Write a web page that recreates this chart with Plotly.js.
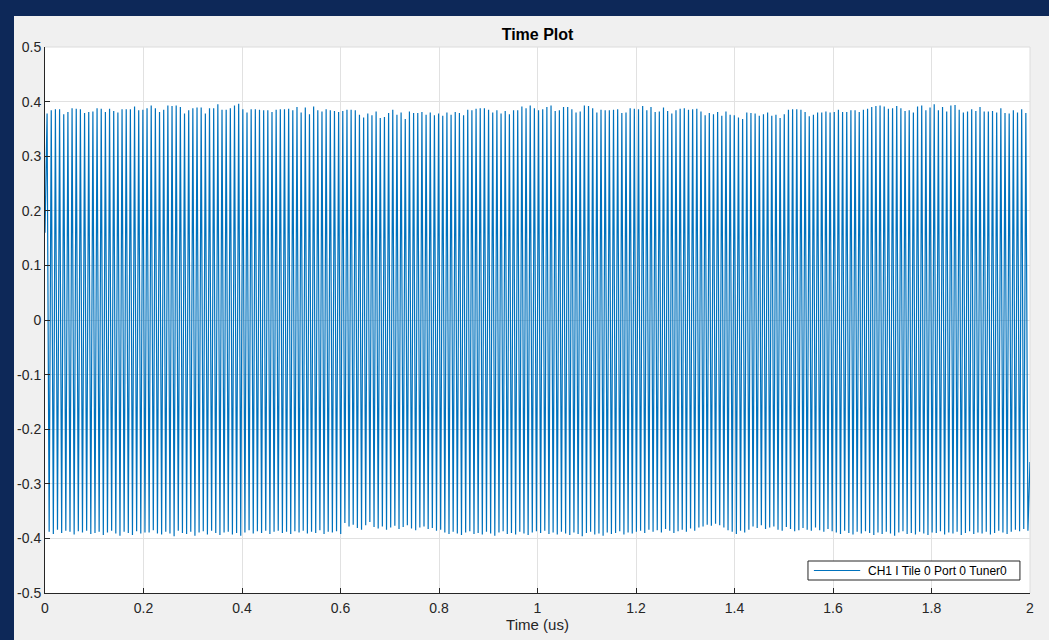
<!DOCTYPE html>
<html>
<head>
<meta charset="utf-8">
<script src="https://cdn.plot.ly/plotly-3.0.1.min.js"></script>
<style>
  html, body { margin: 0; padding: 0; background: #0d2858; width: 1049px; height: 640px; overflow: hidden; }
  #chart { position: absolute; left: 14px; top: 16px; width: 1035px; height: 624px; }
</style>
</head>
<body>
<div id="chart"></div>
<script>
// Signal start/end samples (V)
var startValue = 0.16;
var endValue = -0.26;

// Positive peak of each cycle (V), 0 .. 2 us
var topPeaks = [
  .378,.384,.386,.386,.377,.381,.388,.387,.386,.379,.381,.382,.388,.387,.381,.387,.383,.380,.386,.386,.386,.391,.384,.385,
  .388,.393,.388,.381,.385,.393,.392,.393,.390,.378,.384,.388,.389,.389,.378,.388,.388,.395,.385,.385,.388,.393,.396,
  .386,.380,.386,.386,.385,.384,.384,.381,.385,.386,.386,.387,.384,.390,.380,.389,.377,.391,.384,.382,.386,.384,.383,.381,
  .383,.385,.385,.384,.376,.371,.378,.375,.382,.370,.372,.379,.385,.376,.380,.368,.382,.379,.379,.381,.376,.380,.375,.378,
  .374,.380,.376,.381,.379,.375,.385,.384,.387,.388,.388,.385,.380,.384,.378,.383,.377,.384,.384,.391,.388,.393,.388,
  .384,.386,.390,.393,.383,.384,.390,.390,.386,.380,.382,.393,.392,.388,.380,.385,.384,.384,.385,.386,.379,.380,.388,.387,
  .386,.392,.384,.390,.381,.382,.389,.383,.378,.384,.387,.388,.385,.386,.387,.382,.375,.379,.377,.381,.374,.382,.376,
  .375,.371,.368,.380,.379,.378,.374,.377,.380,.374,.376,.370,.377,.385,.386,.386,.385,.381,.373,.376,.380,.380,.382,.380,
  .381,.385,.381,.381,.384,.384,.381,.385,.387,.390,.392,.393,.391,.387,.388,.392,.388,.383,.384,.380,.391,.393,.384,.389,
  .395,.384,.390,.382,.393,.394,.385,.380,.382,.386,.383,.390,.382,.382,.383,.380,.388,.379,.378,.384,.380,.386,.379
];

// Negative peak of each cycle (V)
var bottomPeaks = [
  -.388,-.392,-.384,-.390,-.386,-.388,-.393,-.387,-.389,-.386,-.392,-.390,-.388,-.394,-.389,-.386,-.391,-.395,-.388,-.390,-.394,-.387,-.391,-.389,
  -.389,-.385,-.391,-.393,-.388,-.391,-.396,-.386,-.390,-.392,-.388,-.395,-.389,-.387,-.393,-.386,-.390,-.394,-.389,-.388,-.393,-.390,-.395,
  -.389,-.385,-.391,-.387,-.390,-.386,-.392,-.388,-.386,-.390,-.388,-.392,-.387,-.389,-.386,-.391,-.388,-.390,-.385,-.392,-.388,-.389,-.387,-.392,
  -.372,-.378,-.375,-.381,-.384,-.376,-.370,-.379,-.382,-.378,-.384,-.380,-.377,-.383,-.379,-.376,-.382,-.385,-.380,-.378,-.383,-.381,-.386,-.384,
  -.389,-.392,-.388,-.391,-.394,-.389,-.387,-.392,-.390,-.393,-.388,-.391,-.395,-.389,-.387,-.392,-.390,-.393,-.388,-.391,-.394,-.389,-.387,
  -.390,-.386,-.392,-.389,-.393,-.388,-.391,-.394,-.389,-.392,-.396,-.390,-.388,-.393,-.391,-.395,-.389,-.392,-.390,-.387,-.393,-.389,-.391,-.388,
  -.386,-.390,-.384,-.388,-.385,-.389,-.383,-.386,-.390,-.387,-.384,-.388,-.382,-.386,-.380,-.378,-.375,-.377,-.373,-.376,-.380,-.385,-.388,
  -.392,-.386,-.389,-.384,-.378,-.381,-.376,-.383,-.380,-.378,-.384,-.386,-.379,-.383,-.387,-.385,-.381,-.384,-.386,-.380,-.385,-.388,-.383,-.387,
  -.389,-.392,-.386,-.390,-.393,-.388,-.391,-.387,-.390,-.394,-.389,-.392,-.388,-.391,-.395,-.389,-.387,-.392,-.390,-.393,-.388,-.391,-.394,-.389,
  -.390,-.387,-.393,-.389,-.391,-.388,-.394,-.390,-.387,-.392,-.389,-.391,-.388,-.393,-.390,-.386,-.389,-.392,-.388,-.384,-.387,-.383,-.386
];

var timeStart = 0;   // us
var timeEnd = 2;     // us
var xTickVals = [0, 0.2, 0.4, 0.6, 0.8, 1, 1.2, 1.4, 1.6, 1.8, 2];
var xTickText = ['0', '0.2', '0.4', '0.6', '0.8', '1', '1.2', '1.4', '1.6', '1.8', '2'];
var yTickVals = [-0.5, -0.4, -0.3, -0.2, -0.1, 0, 0.1, 0.2, 0.3, 0.4, 0.5];
var yTickText = ['-0.5', '-0.4', '-0.3', '-0.2', '-0.1', '0', '0.1', '0.2', '0.3', '0.4', '0.5'];
var seriesName = 'CH1 I Tile 0 Port 0 Tuner0';
var lineColor = '#0072BD';

// Assemble samples: start, alternating peaks, end
var yVals = [startValue];
var nCycles = Math.min(topPeaks.length, bottomPeaks.length);
for (var i = 0; i < nCycles; i++) { yVals.push(topPeaks[i]); yVals.push(bottomPeaks[i]); }
yVals.push(endValue);
var dx = (timeEnd - timeStart) / (yVals.length - 1);

var fontFam = '"Liberation Sans", Arial, sans-serif';
var axCol = '#262626';

var trace = {
  type: 'scatter', mode: 'lines',
  x0: timeStart, dx: dx, y: yVals,
  name: seriesName,
  line: { color: lineColor, width: 1.2 },
  showlegend: false
};

// legend box geometry in paper fractions of the plot area
var lgL = 0.7746, lgR = 0.9898, lgB = 0.0238, lgT = 0.0586, lgMid = (lgB + lgT) / 2;

var layout = {
  width: 1035, height: 624,
  paper_bgcolor: '#f0f0f0', plot_bgcolor: '#ffffff',
  margin: { l: 31, r: 19, t: 31, b: 47 },
  font: { family: fontFam, size: 12, color: axCol },
  title: { text: '<b>Time Plot</b>', font: { family: fontFam, size: 16, color: '#000000' },
           x: 0.5, xref: 'paper', y: 1 - 18 / 624, yref: 'container', yanchor: 'middle' },
  showlegend: false,
  xaxis: {
    range: [timeStart, timeEnd], tickmode: 'array', tickvals: xTickVals, ticktext: xTickText,
    ticks: 'inside', ticklen: 5, tickcolor: axCol, tickwidth: 1,
    showline: true, linecolor: axCol, linewidth: 1,
    showgrid: true, gridcolor: '#e1e1e1', gridwidth: 1, zeroline: false,
    ticklabelstandoff: 2,
    tickfont: { family: fontFam, size: 14, color: axCol },
    title: { text: 'Time (us)', font: { family: fontFam, size: 15, color: axCol }, standoff: 4 }
  },
  yaxis: {
    range: [-0.5, 0.5], tickmode: 'array', tickvals: yTickVals, ticktext: yTickText,
    ticks: 'inside', ticklen: 5, tickcolor: axCol, tickwidth: 1,
    showline: true, linecolor: axCol, linewidth: 1,
    showgrid: true, gridcolor: '#e1e1e1', gridwidth: 1, zeroline: false,
    tickfont: { family: fontFam, size: 14, color: axCol }
  },
  shapes: [
    { type: 'line', xref: 'paper', yref: 'paper', x0: 0, x1: 1, y0: 1, y1: 1, line: { color: '#dcdcdc', width: 1 }, layer: 'below' },
    { type: 'line', xref: 'paper', yref: 'paper', x0: 1, x1: 1, y0: 0, y1: 1, line: { color: '#dcdcdc', width: 1 }, layer: 'below' },
    { type: 'rect', xref: 'paper', yref: 'paper', x0: lgL, x1: lgR, y0: lgB, y1: lgT,
      fillcolor: '#ffffff', line: { color: axCol, width: 1 }, layer: 'above' },
    { type: 'line', xref: 'paper', yref: 'paper', x0: lgL + 0.006, x1: lgL + 0.053, y0: lgMid, y1: lgMid,
      line: { color: lineColor, width: 1.2 }, layer: 'above' }
  ],
  annotations: [
    { xref: 'paper', yref: 'paper', x: lgL + 0.059, y: lgMid, xanchor: 'left', yanchor: 'middle',
      text: seriesName, showarrow: false, font: { family: fontFam, size: 12, color: '#000000' } }
  ]
};

Plotly.newPlot('chart', [trace], layout, { displayModeBar: false, staticPlot: true });
</script>
</body>
</html>
